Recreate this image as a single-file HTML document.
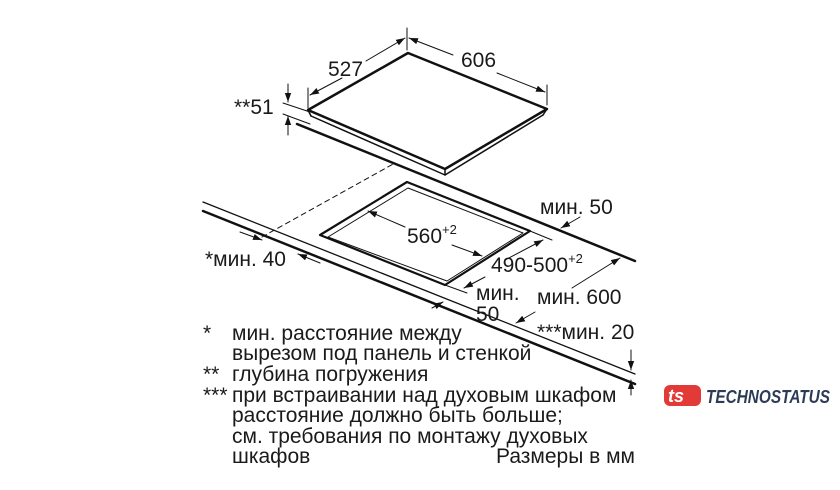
<!DOCTYPE html>
<html><head><meta charset="utf-8"><style>
html,body{margin:0;padding:0;background:#fff}
svg{display:block}
text{font-family:"Liberation Sans",sans-serif;fill:#1a1a1a}
</style></head><body>
<svg width="840" height="490" viewBox="0 0 840 490" xmlns="http://www.w3.org/2000/svg">
<defs>
<marker id="a" viewBox="0 0 10 10" refX="10" refY="5" markerWidth="9" markerHeight="9" orient="auto-start-reverse" markerUnits="userSpaceOnUse"><path d="M0,1.5 L10,5 L0,8.5 z" fill="#111"/></marker>
</defs>
<g stroke="#111" fill="none" stroke-linecap="round" stroke-linejoin="round">
<path d="M408,53 L547,109 L445,169 L308,110 Z" stroke-width="2.5"/>
<path d="M311,116 L445,175 L543,115" stroke-width="1.5"/>
<path d="M308,110 L311,116 M445,169 L445,175 M547,109 L543,115" stroke-width="1.5"/>
<path d="M297,124 L635,261" stroke-width="2.5"/>
<path d="M283,103 L310,112 M283,114 L310,124" stroke-width="1"/>
<path d="M288,84 L288,102" stroke-width="1" marker-end="url(#a)"/>
<path d="M288,135 L288,116" stroke-width="1" marker-end="url(#a)"/>
<path d="M407,28 L407,50 M308,88 L308,108 M547,85 L547,105" stroke-width="1"/>
<path d="M366,61 L405,38" stroke-width="1" marker-end="url(#a)"/>
<path d="M342,78 L310,95" stroke-width="1" marker-end="url(#a)"/>
<path d="M453,55 L409,38" stroke-width="1" marker-end="url(#a)"/>
<path d="M497,73 L545,92" stroke-width="1" marker-end="url(#a)"/>
<path d="M203,202 L635,374" stroke-width="1.3"/>
<path d="M203,211 L635,384" stroke-width="2.5"/>
<path d="M407,182 L530,231 L445,285 L320,235 Z" stroke-width="2.2"/>
<path d="M408,188 L523,233 L447,281 L328,237 Z" stroke-width="1"/>
<path d="M262,237 L395,163" stroke-width="1" stroke-dasharray="5,4"/>
<path d="M405,227 L368,211" stroke-width="1" marker-end="url(#a)"/>
<path d="M452,245 L482,256" stroke-width="1" marker-end="url(#a)"/>
<path d="M530,231 L552,240 M445,285 L467,293" stroke-width="1"/>
<path d="M505,260 L543,240" stroke-width="1" marker-end="url(#a)"/>
<path d="M485,277 L464,288" stroke-width="1" marker-end="url(#a)"/>
<path d="M580,217 L561,228" stroke-width="1" marker-end="url(#a)"/>
<path d="M572,288 L620,258" stroke-width="1" marker-end="url(#a)"/>
<path d="M535,312 L516,323" stroke-width="1" marker-end="url(#a)"/>
<path d="M432,308 L443,302" stroke-width="1" marker-end="url(#a)"/>
<path d="M240,232 L262,240" stroke-width="1" marker-end="url(#a)"/>
<path d="M320,263 L298,254" stroke-width="1" marker-end="url(#a)"/>
<path d="M631,350 L631,370" stroke-width="1" marker-end="url(#a)"/>
<path d="M631,395 L631,380" stroke-width="1" marker-end="url(#a)"/>
</g>
<g font-size="21">
<text x="328" y="76">527</text>
<text x="461" y="67">606</text>
<text x="234" y="114">**51</text>
<text x="407" y="243">560<tspan font-size="13" dy="-9">+2</tspan></text>
<text x="491" y="272">490-500<tspan font-size="13" dy="-9">+2</tspan></text>
<text x="540" y="214">мин. 50</text>
<text x="205" y="266">*мин. 40</text>
<text x="476" y="300">мин.</text>
<text x="476" y="321">50</text>
<text x="537" y="304">мин. 600</text>
<text x="537" y="339">***мин. 20</text>
<text x="203" y="340">*</text>
<text x="232" y="340">мин. расстояние между</text>
<text x="232" y="360">вырезом под панель и стенкой</text>
<text x="203" y="381">**</text>
<text x="232" y="381">глубина погружения</text>
<text x="203" y="402">***</text>
<text x="232" y="402">при встраивании над духовым шкафом</text>
<text x="232" y="422">расстояние должно быть больше;</text>
<text x="232" y="443">см. требования по монтажу духовых</text>
<text x="232" y="463">шкафов</text>
<text x="635" y="463" text-anchor="end">Размеры в мм</text>
</g>
<g>
<rect x="664" y="385" width="37" height="21" rx="6" fill="#e23a36"/>
<text x="668" y="402" font-size="18" font-weight="bold" style="fill:#fff;font-style:italic">ts</text>
<text x="706" y="403" font-size="18" font-weight="bold" font-style="italic" style="fill:#2e3b57" textLength="124" lengthAdjust="spacingAndGlyphs">TECHNOSTATUS</text>
</g>
</svg>
</body></html>
